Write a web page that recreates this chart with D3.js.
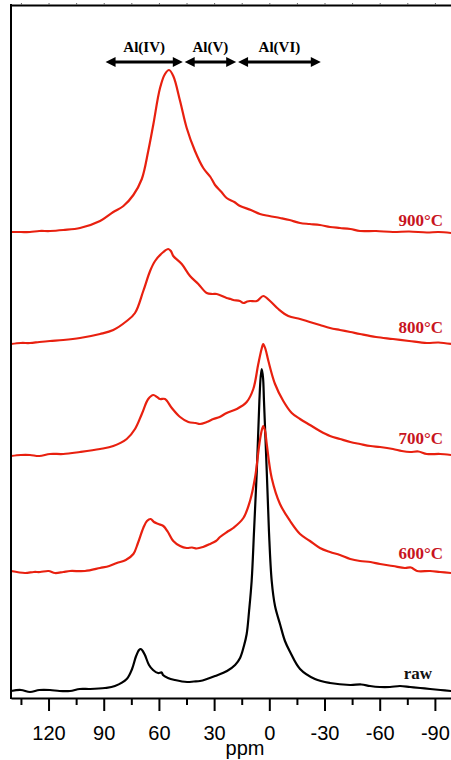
<!DOCTYPE html>
<html>
<head>
<meta charset="utf-8">
<script src="https://cdn.jsdelivr.net/npm/d3@7"></script>
<style>
  body { margin: 0; background: #fff; }
  svg { display: block; }
</style>
</head>
<body>
<svg id="chart" width="451" height="760"></svg>
<script>
// tick values (ppm)
var majorTicks = [120, 90, 60, 30, 0, -30, -60, -90];
var minorTicks = [135, 105, 75, 45, 15, -15, -45, -75];

// Al coordination ranges (ppm) shown as arrows on top
var regionNames = ["Al(IV)", "Al(V)", "Al(VI)"];
var regionRanges = [[89, 47], [46, 18], [17, -28]];

// spectra: [ppm, intensity], stacked with an offset each
var seriesNames = ["raw", "600°C", "700°C", "800°C", "900°C"];
var seriesOffsets = [8, 126, 243, 355, 466];

var raw = [[140.4,-1],[135,0],[130.1,-2],[125,0],[119.2,0],[114,-1],[108.3,-1],[103,1],[97.4,1],[89.3,2],[83.9,4],
  [77.5,11],[74.6,21],[72.4,34],[70.8,40],[69.9,41],[68.8,39],[67.6,35],[65.4,25],[63.2,20],[60.5,17],[58.5,17.5],[57.8,15],
  [55.1,12],[51.3,10],[44.7,8],[41,8.5],[37.7,9],[33.9,11],[29.5,14],[23.0,19],[18.6,25],[15.9,32],[13.8,44],[12.3,56],
  [11.0,79],[9.6,109],[8.3,159],[6.8,219],[5.4,289],[4.7,313],[4.1,321],[3.4,312],[2.9,289],[1.4,219],[0.2,159],
  [-1.3,109],[-3.1,84],[-5.8,66],[-8.5,49],[-11.3,38],[-16.7,21],[-24.8,11],[-33.0,7],[-43.9,5],[-50,5.5],[-54.7,4],
  [-60,3],[-65.6,3],[-71,4],[-76.5,3],[-82,2],[-87.4,1],[-93,0],[-98.8,-1]];

var t600 = [[140.4,1],[132.8,-1],[128,0],[124.6,0],[120,1],[116.5,-1],[112,0],[108.3,1],[100.2,1],[92.0,4],[87,6],
  [82.9,9],[78,12],[73.9,18],[71.4,29],[68.5,44],[66.5,51],[64.5,53],[62.7,50],[60.3,48],[57.6,46],[55.1,40],[52.2,31],
  [48.5,26],[44.9,24],[42,24.5],[39.5,23.5],[36.0,25],[32.2,28],[29,31],[26.8,35],[23.0,40],[19.6,44],[14.1,54],
  [10.5,71],[7.8,94],[5.4,128],[4.2,141],[3.3,146],[2.3,141],[1.4,128],[-1.3,94],[-5.8,68],[-11.3,51],[-16.7,38],
  [-22.1,31],[-27.5,24],[-33,20],[-38.4,17],[-44,13],[-49.3,11],[-55,10],[-60.2,8],[-67.2,6],[-73.7,4],[-77,4.5],
  [-80.3,1],[-87.4,1],[-92.8,0],[-98.8,-1]];

var t700 = [[140.4,-1],[135,0],[130.1,0],[125,-1],[119.2,1],[112,1],[102.9,3],[92.0,6],[84.8,9],[77.5,16],[73.0,26],
  [69.3,41],[65.8,56],[63.0,60],[61,58],[59.4,56],[56.7,56],[53.0,47],[48.5,38],[44.0,33],[40,32],[37.7,31],[34,33],
  [30.4,36],[27,38],[23.2,42],[17.7,46],[12.3,53],[8.7,66],[6.0,91],[4.2,106],[3.3,111],[2.1,106],[0.5,94],
  [-3.1,71],[-7.6,54],[-12.2,42],[-16.7,36],[-22.1,30],[-27.5,24],[-33,19],[-38.4,16],[-44,13],[-49.3,11],[-55,9],
  [-60.2,8],[-67.2,6],[-72,4],[-76.5,3],[-81,3.5],[-85.6,1],[-92.8,1],[-98.8,0]];

var t800 = [[140.4,-1],[135,0],[130.1,0],[125,1],[119.2,2],[112,3],[102.9,5],[92.0,9],[84.8,13],[77.5,22],[73.0,30],
  [68.5,52],[64.8,72],[62.1,82],[57.6,91],[54.9,94],[53.5,92],[52.2,87],[47.6,79],[43.1,67],[38.6,59],[34.0,50],
  [31,49],[28.6,49],[23.2,45],[21,44],[19.6,43],[16,42],[14.1,40],[12,41.5],[10.5,42],[6.8,42],[3.3,47],[-0.4,42],
  [-4.9,34],[-10.3,27],[-16.7,24],[-22,21],[-27.5,18],[-33,15],[-38.4,13],[-44,11],[-49.3,9],[-58,6],[-67.2,4],
  [-76,2],[-85.6,0],[-92,0.5],[-98.8,-1]];

var t900 = [[140.4,0],[135,0],[130.1,0],[125,1],[119.2,1],[112,2],[102.9,4],[92.0,11],[84.8,20],[79.3,26],[73.9,37],
  [69.3,53],[65.8,81],[63.0,108],[59.4,144],[56.7,158],[54.5,162],[52.2,156],[48.5,131],[44.9,104],[40.4,81],
  [35.9,64],[32,55],[29.5,47],[26,40],[23.2,34],[19,30],[15.9,26],[10,22],[5.1,18],[0,16],[-5.8,14],[-11,12],
  [-16.7,9],[-22,8],[-27.5,7],[-33,5],[-38.4,4],[-44,3],[-49.3,1],[-58,1],[-67.2,0],[-76,0.5],[-85.6,-0.5],
  [-92,0],[-98.8,-1]];

var seriesData = [raw, t600, t700, t800, t900];
var seriesColors = ["#000000", "#e8200f", "#e8200f", "#e8200f", "#e8200f"];

var svg = d3.select("#chart");
var plotLeft = 11, plotRight = 451, plotTop = 5, plotBottom = 698;

var x = d3.scaleLinear().domain([140.4, -98.75]).range([plotLeft, plotRight]);
var y = d3.scaleLinear().domain([0, 693]).range([plotBottom, plotTop]);

var serif = "'Liberation Serif','Times New Roman',serif";
var sans = "'Liberation Sans',Arial,sans-serif";

// spectra
seriesData.forEach(function (d, i) {
    var line = d3.line()
        .x(function (p) { return x(p[0]); })
        .y(function (p) { return y(seriesOffsets[i] + p[1]); })
        .curve(d3.curveCatmullRom.alpha(0.5));
    svg.append("path")
        .datum(d)
        .attr("d", line)
        .attr("fill", "none")
        .attr("stroke", seriesColors[i])
        .attr("stroke-width", 2.2)
        .attr("stroke-linejoin", "round");
});

// series labels
var labelRise = [11, 13, 11, 10, 6];
seriesNames.forEach(function (name, i) {
    svg.append("text")
        .attr("x", i === 0 ? x(-88.4) : x(-94.4))
        .attr("y", y(seriesOffsets[i]) - labelRise[i])
        .attr("text-anchor", "end")
        .attr("font-family", serif)
        .attr("font-weight", "bold")
        .attr("font-size", "17px")
        .attr("fill", i === 0 ? "#111" : "#c8141e")
        .text(name);
});

// bottom axis
var xAxis = d3.axisBottom(x).tickValues(majorTicks).tickSize(13).tickSizeOuter(0)
    .tickFormat(function (d) { return String(d); });
var gx = svg.append("g").attr("transform", "translate(0," + plotBottom + ")").call(xAxis);
gx.select(".domain").attr("stroke-width", 2);
gx.selectAll(".tick line").attr("stroke-width", 2);
gx.selectAll(".tick text")
    .attr("y", 42).attr("dy", 0)
    .attr("font-family", sans).attr("font-size", "20px").attr("fill", "#000");

var xMinor = d3.axisBottom(x).tickValues(minorTicks).tickSize(7).tickSizeOuter(0).tickFormat("");
var gm = svg.append("g").attr("transform", "translate(0," + plotBottom + ")").call(xMinor);
gm.select(".domain").remove();
gm.selectAll(".tick line").attr("stroke-width", 2);

// top frame with tiny ticks
var xTop = d3.axisTop(x).tickValues(majorTicks.concat(minorTicks)).tickSize(2).tickSizeOuter(0).tickFormat("");
var gt = svg.append("g").attr("transform", "translate(0," + plotTop + ")").call(xTop);
gt.select(".domain").attr("stroke-width", 2);
gt.selectAll(".tick line").attr("stroke-width", 1).attr("stroke", "#666");

// left frame
svg.append("line")
    .attr("x1", plotLeft).attr("x2", plotLeft)
    .attr("y1", plotTop - 1).attr("y2", plotBottom + 1)
    .attr("stroke", "#000").attr("stroke-width", 2);

svg.append("text")
    .attr("x", 245).attr("y", 755)
    .attr("text-anchor", "middle")
    .attr("font-family", sans).attr("font-size", "20px")
    .text("ppm");

// region arrows
var arrowY = 62, head = 10, half = 5;
regionRanges.forEach(function (r, i) {
    var x1 = x(r[0]), x2 = x(r[1]);
    var g = svg.append("g");
    g.append("line")
        .attr("x1", x1 + head - 1).attr("x2", x2 - head + 1)
        .attr("y1", arrowY).attr("y2", arrowY)
        .attr("stroke", "#000").attr("stroke-width", 3);
    g.append("path")
        .attr("d", "M" + x1 + "," + arrowY + "L" + (x1 + head) + "," + (arrowY - half) +
            "L" + (x1 + head) + "," + (arrowY + half) + "Z")
        .attr("fill", "#000");
    g.append("path")
        .attr("d", "M" + x2 + "," + arrowY + "L" + (x2 - head) + "," + (arrowY - half) +
            "L" + (x2 - head) + "," + (arrowY + half) + "Z")
        .attr("fill", "#000");
    g.append("text")
        .attr("x", (x1 + x2) / 2).attr("y", 52)
        .attr("text-anchor", "middle")
        .attr("font-family", serif).attr("font-weight", "bold").attr("font-size", "15px")
        .text(regionNames[i]);
});
</script>
</body>
</html>
